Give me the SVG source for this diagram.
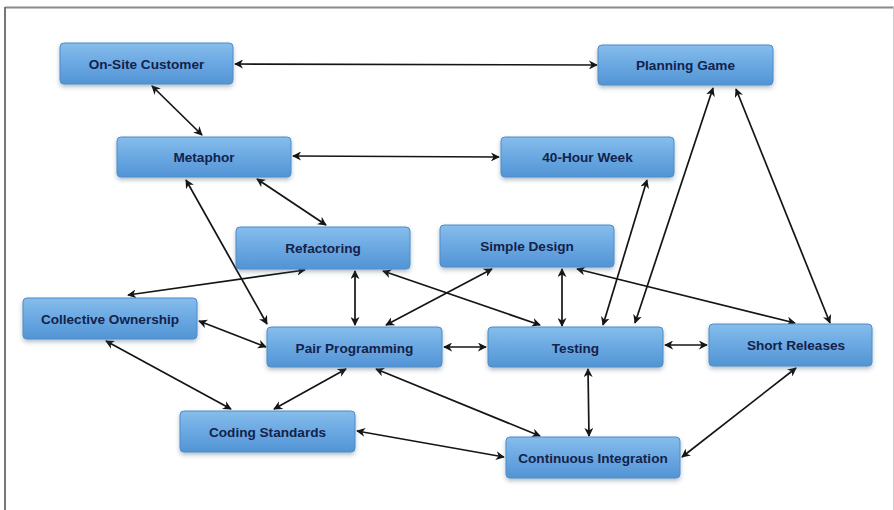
<svg xmlns="http://www.w3.org/2000/svg" width="894" height="510" viewBox="0 0 894 510">
  <defs>
    <linearGradient id="boxFill" x1="0" y1="0" x2="0" y2="1">
      <stop offset="0" stop-color="#86bdec"/>
      <stop offset="0.5" stop-color="#6aa8e2"/>
      <stop offset="1" stop-color="#5294d4"/>
    </linearGradient>
    <filter id="shadow" x="-10%" y="-20%" width="120%" height="160%">
      <feDropShadow dx="0" dy="2.5" stdDeviation="2" flood-color="#2a4a6a" flood-opacity="0.35"/>
    </filter>
    <marker id="arrow" viewBox="0 0 10 10" refX="9" refY="5" markerWidth="9" markerHeight="9" markerUnits="userSpaceOnUse" orient="auto-start-reverse">
      <path d="M0,0 L10,5 L0,10 L3,5 Z" fill="#151515"/>
    </marker>
  </defs>
  <style>
    .box { fill: url(#boxFill); stroke: #4f8cc6; stroke-width: 1; filter: url(#shadow); }
    .label { font-family: "Liberation Sans", Arial, sans-serif; font-weight: bold; font-size: 13.6px; fill: #13224a; text-anchor: middle; }
    .link { stroke: #151515; stroke-width: 1.7; fill: none; marker-start: url(#arrow); marker-end: url(#arrow); }
  </style>

  <!-- page frame -->
  <rect x="0" y="0" width="894" height="510" fill="#ffffff"/>
  <line x1="5" y1="7.5" x2="894" y2="7.5" stroke="#8a8a8a" stroke-width="2"/>
  <line x1="5" y1="7" x2="5" y2="510" stroke="#777777" stroke-width="2"/>
  <line x1="893.5" y1="7" x2="893.5" y2="510" stroke="#cccccc" stroke-width="1"/>

  <!-- connectors -->
  <g id="connectors">
    <line class="link" x1="235" y1="64" x2="597" y2="65"/>
    <line class="link" x1="152" y1="86" x2="202" y2="135"/>
    <line class="link" x1="293" y1="156" x2="499" y2="157"/>
    <line class="link" x1="257" y1="179" x2="326" y2="225"/>
    <line class="link" x1="186" y1="180" x2="267" y2="324"/>
    <line class="link" x1="305" y1="270" x2="128" y2="295"/>
    <line class="link" x1="355" y1="271" x2="355" y2="325"/>
    <line class="link" x1="383" y1="271" x2="540" y2="325"/>
    <line class="link" x1="492" y1="269" x2="386" y2="325"/>
    <line class="link" x1="562" y1="269" x2="562" y2="326"/>
    <line class="link" x1="577" y1="269" x2="795" y2="323"/>
    <line class="link" x1="713" y1="88" x2="635" y2="323"/>
    <line class="link" x1="647" y1="180" x2="603" y2="325"/>
    <line class="link" x1="736" y1="89" x2="830" y2="323"/>
    <line class="link" x1="444" y1="347" x2="486" y2="347"/>
    <line class="link" x1="665" y1="345" x2="707" y2="345"/>
    <line class="link" x1="199" y1="321" x2="266" y2="347"/>
    <line class="link" x1="106" y1="341" x2="231" y2="409"/>
    <line class="link" x1="346" y1="369" x2="274" y2="409"/>
    <line class="link" x1="376" y1="369" x2="540" y2="436"/>
    <line class="link" x1="357" y1="431" x2="504" y2="457"/>
    <line class="link" x1="588" y1="369" x2="589" y2="436"/>
    <line class="link" x1="796" y1="368" x2="682" y2="457"/>
  </g>

  <!-- nodes -->
  <g id="on-site-customer">
    <rect class="box" x="60" y="43" width="173" height="41" rx="4"/>
    <text class="label" x="146.5" y="68.5">On-Site Customer</text>
  </g>
  <g id="planning-game">
    <rect class="box" x="598" y="45" width="175" height="40" rx="4"/>
    <text class="label" x="685.5" y="69.5">Planning Game</text>
  </g>
  <g id="metaphor">
    <rect class="box" x="117" y="137" width="174" height="40" rx="4"/>
    <text class="label" x="204" y="161.5">Metaphor</text>
  </g>
  <g id="forty-hour-week">
    <rect class="box" x="501" y="137" width="173" height="40" rx="4"/>
    <text class="label" x="587.5" y="161.5">40-Hour Week</text>
  </g>
  <g id="refactoring">
    <rect class="box" x="236" y="227" width="174" height="42" rx="4"/>
    <text class="label" x="323" y="252.5">Refactoring</text>
  </g>
  <g id="simple-design">
    <rect class="box" x="440" y="225" width="174" height="42" rx="4"/>
    <text class="label" x="527" y="250.5">Simple Design</text>
  </g>
  <g id="collective-ownership">
    <rect class="box" x="23" y="298" width="174" height="41" rx="4"/>
    <text class="label" x="110" y="323.5">Collective Ownership</text>
  </g>
  <g id="pair-programming">
    <rect class="box" x="267" y="327" width="175" height="40" rx="4"/>
    <text class="label" x="354.5" y="352.5">Pair Programming</text>
  </g>
  <g id="testing">
    <rect class="box" x="488" y="327" width="175" height="40" rx="4"/>
    <text class="label" x="575.5" y="352.5">Testing</text>
  </g>
  <g id="short-releases">
    <rect class="box" x="709" y="324" width="163" height="42" rx="4"/>
    <text class="label" x="796" y="350">Short Releases</text>
  </g>
  <g id="coding-standards">
    <rect class="box" x="180" y="411" width="175" height="41" rx="4"/>
    <text class="label" x="267.5" y="436.5">Coding Standards</text>
  </g>
  <g id="continuous-integration">
    <rect class="box" x="506" y="437" width="174" height="41" rx="4"/>
    <text class="label" x="593" y="462.5">Continuous Integration</text>
  </g>
</svg>
